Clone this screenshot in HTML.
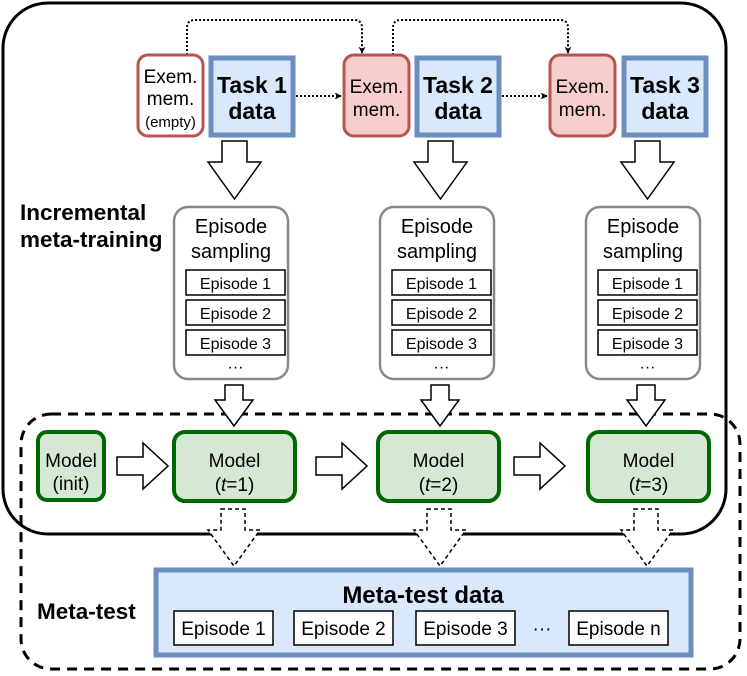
<!DOCTYPE html>
<html><head><meta charset="utf-8"><style>
html,body{margin:0;padding:0;background:#fff}
svg{display:block}
text{font-family:"Liberation Sans",Arial,sans-serif}
</style></head><body>
<svg width="747" height="676" viewBox="0 0 747 676" xmlns="http://www.w3.org/2000/svg">
<defs>
<marker id="ah" viewBox="0 0 10 10" refX="9" refY="5" markerWidth="7" markerHeight="7" orient="auto" markerUnits="userSpaceOnUse"><path d="M0,0 L10,5 L0,10 L3,5 Z" fill="#000"/></marker>
</defs>
<rect x="3" y="3" width="723" height="531" rx="45" fill="none" stroke="#000" stroke-width="3"/>
<rect x="21" y="414" width="719" height="255" rx="30" fill="none" stroke="#000" stroke-width="3" stroke-dasharray="10,7"/>

<g fill="none" stroke="#000" stroke-width="2" stroke-dasharray="2,2">
<path d="M187,55 V28 Q187,20 195,20 H354 Q362,20 362,28 V53" marker-end="url(#ah)"/>
<path d="M393,55 V28 Q393,20 401,20 H560 Q568,20 568,28 V53" marker-end="url(#ah)"/>
<path d="M296,96 H341" marker-end="url(#ah)"/>
<path d="M502,96 H547" marker-end="url(#ah)"/>
</g>

<rect x="138" y="55" width="65" height="81" rx="10" fill="#fff" stroke="#b85450" stroke-width="3"/>
<text x="170.5" y="83" font-size="19" text-anchor="middle">Exem.</text>
<text x="170.5" y="105" font-size="19" text-anchor="middle">mem.</text>
<text x="170.5" y="127" font-size="15" text-anchor="middle">(empty)</text>
<rect x="344" y="55" width="65" height="81" rx="10" fill="#f8cecc" stroke="#b85450" stroke-width="3"/>
<text x="376.5" y="93" font-size="19" text-anchor="middle">Exem.</text>
<text x="376.5" y="116" font-size="19" text-anchor="middle">mem.</text>
<rect x="550" y="55" width="65" height="81" rx="10" fill="#f8cecc" stroke="#b85450" stroke-width="3"/>
<text x="582.5" y="93" font-size="19" text-anchor="middle">Exem.</text>
<text x="582.5" y="116" font-size="19" text-anchor="middle">mem.</text>

<g fill="#dae8fc" stroke="#6c8ebf" stroke-width="5">
<rect x="211" y="58" width="82" height="77"/>
<rect x="417" y="58" width="82" height="77"/>
<rect x="624" y="58" width="82" height="77"/>
</g>
<g font-size="23" font-weight="bold" text-anchor="middle">
<text x="252" y="93">Task 1</text><text x="252" y="119">data</text>
<text x="458" y="93">Task 2</text><text x="458" y="119">data</text>
<text x="665" y="93">Task 3</text><text x="665" y="119">data</text>
</g>

<g fill="#fff" stroke="#000" stroke-width="1.5">
<path d="M222,141 H247 V162 H261 L234.5,199 L208,162 H222 Z"/>
<path d="M428,141 H453 V162 H467 L440.5,199 L414,162 H428 Z"/>
<path d="M635,141 H660 V162 H674 L647.5,199 L621,162 H635 Z"/>
<path d="M225,385 H243 V400 H253 L234,426 L215,400 H225 Z"/>
<path d="M431,385 H449 V400 H459 L440,426 L421,400 H431 Z"/>
<path d="M637,385 H655 V400 H665 L646,426 L627,400 H637 Z"/>
<path d="M117,457 H143 V443 L168,466 L143,489 V475 H117 Z"/>
<path d="M316,457 H342 V443 L367,466 L342,489 V475 H316 Z"/>
<path d="M514,457 H540 V443 L565,466 L540,489 V475 H514 Z"/>
</g>

<g>
<rect x="174" y="207" width="114" height="172" rx="14" fill="#fff" stroke="#888" stroke-width="2.5"/>
<rect x="380" y="207" width="114" height="172" rx="14" fill="#fff" stroke="#888" stroke-width="2.5"/>
<rect x="586" y="207" width="114" height="172" rx="14" fill="#fff" stroke="#888" stroke-width="2.5"/>
</g>
<g fill="#fff" stroke="#000" stroke-width="1.5">
<rect x="186" y="270" width="99" height="25"/><rect x="186" y="300" width="99" height="25"/><rect x="186" y="330" width="99" height="25"/>
<rect x="392" y="270" width="99" height="25"/><rect x="392" y="300" width="99" height="25"/><rect x="392" y="330" width="99" height="25"/>
<rect x="598" y="270" width="99" height="25"/><rect x="598" y="300" width="99" height="25"/><rect x="598" y="330" width="99" height="25"/>
</g>
<g font-size="20" text-anchor="middle">
<text x="231" y="233">Episode</text><text x="231" y="258">sampling</text>
<text x="437" y="233">Episode</text><text x="437" y="258">sampling</text>
<text x="643" y="233">Episode</text><text x="643" y="258">sampling</text>
</g>
<g font-size="16" text-anchor="middle">
<text x="235.5" y="289">Episode 1</text><text x="235.5" y="319">Episode 2</text><text x="235.5" y="349">Episode 3</text>
<text x="441.5" y="289">Episode 1</text><text x="441.5" y="319">Episode 2</text><text x="441.5" y="349">Episode 3</text>
<text x="647.5" y="289">Episode 1</text><text x="647.5" y="319">Episode 2</text><text x="647.5" y="349">Episode 3</text>
<text x="235.5" y="372">···</text><text x="441.5" y="372">···</text><text x="647.5" y="372">···</text>
</g>

<g font-size="22.5" font-weight="bold">
<text x="20" y="220">Incremental</text>
<text x="20" y="247">meta-training</text>
<text x="37" y="619">Meta-test</text>
</g>

<g fill="#d5e8d4" stroke="#006600" stroke-width="4">
<rect x="38" y="432" width="66" height="68" rx="9"/>
<rect x="174" y="432" width="121" height="69" rx="11"/>
<rect x="378" y="432" width="121" height="69" rx="11"/>
<rect x="588" y="432" width="121" height="69" rx="11"/>
</g>
<g font-size="19" text-anchor="middle">
<text x="71" y="467">Model</text><text x="71" y="490">(init)</text>
<text x="234.5" y="467">Model</text><text x="234.5" y="491">(<tspan font-style="italic">t</tspan>=1)</text>
<text x="438.5" y="467">Model</text><text x="438.5" y="491">(<tspan font-style="italic">t</tspan>=2)</text>
<text x="648.5" y="467">Model</text><text x="648.5" y="491">(<tspan font-style="italic">t</tspan>=3)</text>
</g>

<g fill="#fff" stroke="#000" stroke-width="1.5" stroke-dasharray="4,3">
<path d="M221,509 H245 V530 H260 L234,566 L208,530 H221 Z"/>
<path d="M427,509 H451 V530 H466 L440,566 L414,530 H427 Z"/>
<path d="M634,509 H658 V530 H673 L647,566 L621,530 H634 Z"/>
</g>

<rect x="156" y="570" width="535" height="85" fill="#dae8fc" stroke="#6c8ebf" stroke-width="5"/>
<text x="423" y="603" font-size="24" font-weight="bold" text-anchor="middle">Meta-test data</text>
<g fill="#fff" stroke="#000" stroke-width="1.5">
<rect x="174" y="611" width="99" height="34"/>
<rect x="294" y="611" width="99" height="34"/>
<rect x="416" y="611" width="99" height="34"/>
<rect x="569" y="611" width="99" height="34"/>
</g>
<g font-size="19" text-anchor="middle">
<text x="223.5" y="635">Episode 1</text>
<text x="343.5" y="635">Episode 2</text>
<text x="465.5" y="635">Episode 3</text>
<text x="542" y="635">···</text>
<text x="618.5" y="635">Episode n</text>
</g>
</svg>
</body></html>
